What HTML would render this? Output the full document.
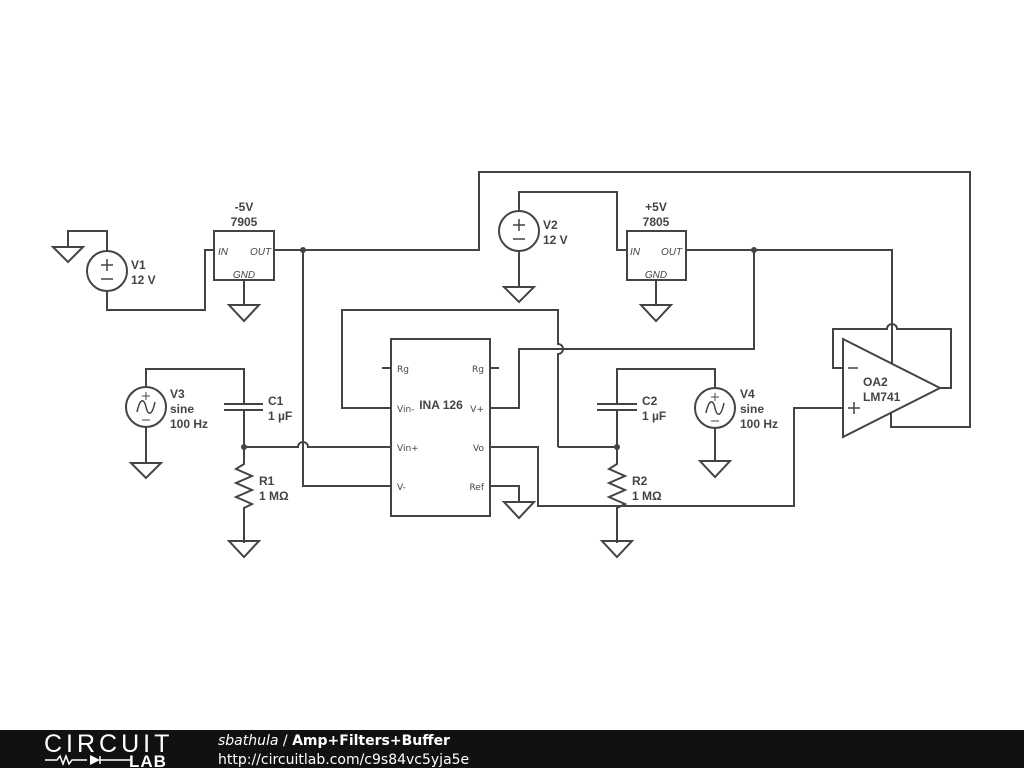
<!DOCTYPE html>
<html><head><meta charset="utf-8"><style>
html,body{margin:0;padding:0;background:#fff;width:1024px;height:768px;overflow:hidden}
svg{display:block}
text{font-family:"Liberation Sans","DejaVu Sans",sans-serif;fill:#444}
.b{font-weight:bold;font-size:12px}
.p{font-size:9px;font-family:"DejaVu Sans",sans-serif}
.i{font-style:italic;font-size:10px}
</style></head><body>
<svg width="1024" height="768" viewBox="0 0 1024 768">
<g fill="none" stroke="#444" stroke-width="2">
<path d="M53,247h30l-15,15z"/>
<path d="M229,305h30l-15,16z"/>
<path d="M504,287h30l-15,15z"/>
<path d="M641,305h30l-15,16z"/>
<path d="M131,463h30l-15,15z"/>
<path d="M229,541h30l-15,16z"/>
<path d="M504,502h30l-15,16z"/>
<path d="M602,541h30l-15,16z"/>
<path d="M700,461h30l-15,16z"/>
<path d="M68,247v-16h39v20"/>
<circle cx="107" cy="271" r="20"/>
<path d="M107,291v19h98v-60h9"/>
<path d="M101,265h12M107,259v12M101,279h12" stroke-width="1.5"/>
<rect x="214" y="231" width="60" height="49"/>
<path d="M244,280v25"/>
<path d="M274,250h205v-78h491v255h-79v-15"/>
<circle cx="519" cy="231" r="20"/>
<path d="M513,225h12M519,219v12M513,239h12" stroke-width="1.5"/>
<path d="M519,211v-19h98v58h10"/>
<path d="M519,251v36"/>
<rect x="627" y="231" width="59" height="49"/>
<path d="M656,280v25"/>
<path d="M686,250h206v114"/>
<path d="M843,339L940,388L843,437z"/>
<path d="M940,388h11v-59h-54a5,5 0 0 0 -10,0h-54v39h10"/>
<path d="M848,368h10M848,408h12M854,402v12" stroke-width="1.5"/>
<rect x="391" y="339" width="99" height="177"/>
<path d="M382,368h9M490,368h9"/>
<path d="M303,250v236h88"/>
<path d="M391,408h-49v-98h216v34a5,5 0 0 1 0,10v93"/>
<path d="M490,408h29v-59h235v-99"/>
<path d="M490,447h48v59h256v-98h49"/>
<path d="M490,486h29v16"/>
<circle cx="146" cy="407" r="20"/>
<path d="M137,412C140,398 144,398 146,407S152,416 155,402" stroke-width="1.5"/>
<path d="M142,396h8M146,392v8M142,420h8" stroke-width="1"/>
<path d="M146,427v36"/>
<path d="M146,387v-18h98v35M224,404h39M224,410h39M244,410v37"/>
<path d="M244,447h54a5,5 0 0 1 10,0h83"/>
<path d="M244,447v17l-8,5 16,7-16,7 16,7-16,7 16,7-8,4v35"/>
<path d="M617,447v-37M597,410h40M597,404h40M617,404v-35h98v19"/>
<circle cx="715" cy="408" r="20"/>
<path d="M706,413C709,399 713,399 715,408S721,417 724,403" stroke-width="1.5"/>
<path d="M711,397h8M715,393v8M711,421h8" stroke-width="1"/>
<path d="M715,428v33"/>
<path d="M558,447h59"/>
<path d="M617,447v17l-8,5 16,7-16,7 16,7-16,7 16,7-8,4v35"/>
</g>
<g fill="#444">
<circle cx="303" cy="250" r="3"/><circle cx="754" cy="250" r="3"/>
<circle cx="244" cy="447" r="3"/><circle cx="617" cy="447" r="3"/>
</g>
<text class="b" x="131" y="269">V1</text><text class="b" x="131" y="284">12 V</text>
<text class="b" x="244" y="211" text-anchor="middle">-5V</text><text class="b" x="244" y="226" text-anchor="middle">7905</text>
<text class="i" x="218" y="255">IN</text><text class="i" x="250" y="255">OUT</text><text class="i" x="244" y="278" text-anchor="middle">GND</text>
<text class="b" x="543" y="229">V2</text><text class="b" x="543" y="244">12 V</text>
<text class="b" x="656" y="211" text-anchor="middle">+5V</text><text class="b" x="656" y="226" text-anchor="middle">7805</text>
<text class="i" x="630" y="255">IN</text><text class="i" x="661" y="255">OUT</text><text class="i" x="656" y="278" text-anchor="middle">GND</text>
<text class="b" x="170" y="398">V3</text><text class="b" x="170" y="413">sine</text><text class="b" x="170" y="428">100 Hz</text>
<text class="b" x="268" y="405">C1</text><text class="b" x="268" y="420">1 µF</text>
<text class="b" x="259" y="485">R1</text><text class="b" x="259" y="500">1 MΩ</text>
<text class="b" x="642" y="405">C2</text><text class="b" x="642" y="420">1 µF</text>
<text class="b" x="632" y="485">R2</text><text class="b" x="632" y="500">1 MΩ</text>
<text class="b" x="740" y="398">V4</text><text class="b" x="740" y="413">sine</text><text class="b" x="740" y="428">100 Hz</text>
<text class="b" x="863" y="386">OA2</text><text class="b" x="863" y="401">LM741</text>
<text class="b" x="441" y="409" text-anchor="middle">INA 126</text>
<text class="p" x="397" y="372">Rg</text><text class="p" x="484" y="372" text-anchor="end">Rg</text>
<text class="p" x="397" y="412">Vin-</text><text class="p" x="484" y="412" text-anchor="end">V+</text>
<text class="p" x="397" y="451">Vin+</text><text class="p" x="484" y="451" text-anchor="end">Vo</text>
<text class="p" x="397" y="490">V-</text><text class="p" x="484" y="490" text-anchor="end">Ref</text>
<rect x="0" y="730" width="1024" height="38" fill="#111"/>
<text x="44" y="752" style="fill:#fff;font-size:25px;letter-spacing:4px">CIRCUIT</text>
<path d="M45,760h12l3,-4 3,8 3,-8 3,8 3,-4h15M100,756v8M100,760h30" stroke="#fff" stroke-width="1.5" fill="none"/>
<path d="M90,755v10l10,-5z" fill="#fff"/>
<text x="129" y="767" style="fill:#fff;font-size:17px;font-weight:bold;letter-spacing:1px">LAB</text>
<text x="218" y="745" style="fill:#fff;font-size:14px;font-family:'DejaVu Sans',sans-serif"><tspan font-style="italic">sbathula</tspan> / <tspan font-weight="bold">Amp+Filters+Buffer</tspan></text>
<text x="218" y="764" style="fill:#fff;font-size:14px;font-family:'DejaVu Sans',sans-serif">http://circuitlab.com/c9s84vc5yja5e</text>
</svg>
</body></html>
